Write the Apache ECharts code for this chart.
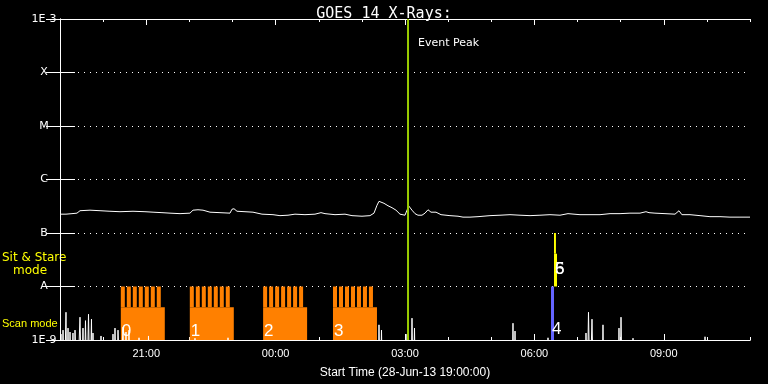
<!DOCTYPE html>
<html><head><meta charset="utf-8">
<script src="https://cdn.jsdelivr.net/npm/echarts@6/dist/echarts.min.js"></script>
<style>html,body{margin:0;padding:0;background:#000;}#c{width:768px;height:384px;}</style>
</head><body><div id="c"></div>
<script>
// x values are hours after the start time 28-Jun-13 19:00:00
const startHour = 19;
const hourTicks = [0,1,2,3,4,5,6,7,8,9,10,11,12,13,14,15,16];
const hourLabels = [2,5,8,11,14];          // 21:00, 00:00, 03:00, 06:00, 09:00
const levelNames = {'-9':'1E-9','-8':'A','-7':'B','-6':'C','-5':'M','-4':'X','-3':'1E-3'};

// GOES 14 long channel flux (W/m^2)
const goesLong = [[0.000,2.25e-7],[0.139,2.25e-7],[0.278,2.30e-7],[0.394,2.35e-7],[0.464,2.61e-7],[0.696,2.67e-7],[0.928,2.61e-7],[1.159,2.55e-7],[1.391,2.50e-7],[1.693,2.55e-7],[1.971,2.50e-7],[2.157,2.45e-7],[2.365,2.40e-7],[2.551,2.35e-7],[2.783,2.30e-7],[3.014,2.35e-7],[3.084,2.67e-7],[3.200,2.72e-7],[3.316,2.67e-7],[3.478,2.45e-7],[3.710,2.40e-7],[3.942,2.35e-7],[3.988,2.78e-7],[4.035,2.84e-7],[4.104,2.55e-7],[4.290,2.50e-7],[4.475,2.45e-7],[4.684,2.25e-7],[4.939,2.20e-7],[5.101,2.11e-7],[5.287,2.15e-7],[5.449,2.25e-7],[5.681,2.20e-7],[5.913,2.25e-7],[6.052,2.40e-7],[6.145,2.30e-7],[6.377,2.20e-7],[6.609,2.25e-7],[6.771,2.11e-7],[7.003,2.06e-7],[7.188,2.11e-7],[7.281,2.35e-7],[7.351,3.30e-7],[7.397,3.91e-7],[7.443,4.00e-7],[7.513,3.59e-7],[7.606,3.23e-7],[7.699,2.97e-7],[7.791,2.67e-7],[7.884,2.25e-7],[8.000,2.15e-7],[8.046,2.67e-7],[8.093,3.16e-7],[8.162,2.67e-7],[8.232,2.30e-7],[8.301,2.15e-7],[8.394,2.15e-7],[8.464,2.35e-7],[8.533,2.72e-7],[8.603,2.45e-7],[8.719,2.45e-7],[8.835,2.20e-7],[9.043,2.11e-7],[9.229,2.06e-7],[9.345,1.98e-7],[9.507,1.98e-7],[9.693,2.02e-7],[9.971,2.11e-7],[10.203,2.15e-7],[10.435,2.20e-7],[10.667,2.15e-7],[10.899,2.11e-7],[11.130,2.15e-7],[11.362,2.20e-7],[11.594,2.15e-7],[11.780,2.30e-7],[12.058,2.20e-7],[12.290,2.20e-7],[12.522,2.20e-7],[12.754,2.30e-7],[12.986,2.30e-7],[13.217,2.35e-7],[13.449,2.35e-7],[13.588,2.50e-7],[13.658,2.40e-7],[13.797,2.35e-7],[14.029,2.30e-7],[14.261,2.25e-7],[14.354,2.61e-7],[14.420,2.20e-7],[14.609,2.20e-7],[14.841,2.11e-7],[15.072,2.02e-7],[15.304,2.02e-7],[15.536,1.98e-7],[15.768,1.98e-7],[16.000,1.98e-7]];

// Short channel: mostly below 1E-9 (off scale), brief excursions above it
const goesShort = [[0.000,1e-10],[0.023,1.29e-9],[0.045,1e-10],[0.070,1.53e-9],[0.100,1e-10],[0.139,3.30e-9],[0.160,1e-10],[0.186,1.67e-9],[0.210,1e-10],[0.232,1.41e-9],[0.265,1e-10],[0.301,1.35e-9],[0.325,1e-10],[0.348,1.53e-9],[0.400,1e-10],[0.464,2.67e-9],[0.500,1e-10],[0.533,1.67e-9],[0.560,1e-10],[0.591,2.30e-9],[0.625,1e-10],[0.661,3.03e-9],[0.695,1e-10],[0.730,2.45e-9],[0.748,1e-10],[0.765,1.35e-9],[0.790,1e-10],[0.930,1e-10],[0.951,1.19e-9],[0.975,1e-10],[1.205,1e-10],[1.229,1.29e-9],[1.250,1e-10],[1.275,1.67e-9],[1.310,1e-10],[1.345,1.53e-9],[1.400,1e-10],[1.461,1.74e-9],[1.495,1e-10],[1.530,1.41e-9],[1.565,1e-10],[1.600,1.53e-9],[1.625,1e-10],[1.810,1e-10],[1.832,1.10e-9],[1.855,1e-10],[2.030,1e-10],[2.052,1.19e-9],[2.075,1e-10],[3.110,1e-10],[3.130,1.08e-9],[3.150,1e-10],[3.875,1e-10],[3.896,1.10e-9],[3.920,1e-10],[7.375,1e-10],[7.397,1.92e-9],[7.425,1e-10],[7.455,1.53e-9],[7.480,1e-10],[8.000,1e-10],[8.023,1.29e-9],[8.050,1e-10],[8.140,1e-10],[8.162,2.56e-9],[8.190,1e-10],[8.220,1.67e-9],[8.245,1e-10],[10.480,1e-10],[10.504,2.06e-9],[10.528,1e-10],[10.551,1.47e-9],[10.575,1e-10],[11.295,1e-10],[11.316,1.10e-9],[11.340,1e-10],[12.175,1e-10],[12.197,1.35e-9],[12.225,1e-10],[12.255,3.30e-9],[12.290,1e-10],[12.336,2.45e-9],[12.370,1e-10],[12.568,1e-10],[12.591,1.92e-9],[12.615,1e-10],[12.940,1e-10],[12.962,1.67e-9],[12.985,1e-10],[13.009,2.67e-9],[13.040,1e-10],[13.265,1e-10],[13.287,1.08e-9],[13.310,1e-10],[14.935,1e-10],[14.957,1.15e-9],[14.980,1e-10],[16.000,1e-10]];

// IRIS observations (hours after start)
const scanStart = [1.41, 3.01, 4.71, 6.33];
const scanEnd   = [2.43, 4.03, 5.73, 7.35];
const scanLabels = ['0','1','2','3'];
const scanSteps = 7, stepWidth = 0.093, stepGap = 0.046;
const scanTop = 1e-8, scanFloor = 4.1e-9, bandBottom = 1e-9;
const blueStart = [11.386], blueEnd = [11.455], blueLabels = ['4'];
const stareStart = [11.455], stareEnd = [11.525], stareToothEnd = [11.50];
const stareLabels = ['5','6'];
const stareTop = 1e-7, stareFloor = 4.1e-8;
const eventPeakHour = 8.07;

const colors = ['#ff8000', '#6464ff', '#ffff00'];
const rects = [];
scanStart.forEach((s, i) => {
  rects.push([s, scanEnd[i], bandBottom, scanFloor, 0]);
  for (let k = 0; k < scanSteps; k++) {
    const x0 = s + k * (stepWidth + stepGap);
    rects.push([x0, x0 + stepWidth, scanFloor, scanTop, 0]);
  }
});
blueStart.forEach((s, i) => rects.push([s, blueEnd[i], bandBottom, scanTop, 1]));
stareStart.forEach((s, i) => {
  rects.push([s, stareEnd[i], scanTop, stareFloor, 2]);
  rects.push([s, stareToothEnd[i], stareFloor, stareTop, 2]);
});

// [x, y, text, dx, font]
const digitFont = '17px "Liberation Sans"';
const texts = [];
scanStart.forEach((s, i) => texts.push([s, 1.47e-9, scanLabels[i], 1, digitFont]));
blueStart.forEach((s, i) => texts.push([s, 1.56e-9, blueLabels[i], 1, digitFont]));
stareLabels.forEach(l => texts.push([stareStart[0], 2.06e-8, l, 1, digitFont]));
texts.push([eventPeakHour, 3.6e-4, 'Event Peak', 10, '11px "DejaVu Sans"']);

const chart = echarts.init(document.getElementById('c'));
const pad2 = n => (n < 10 ? '0' : '') + n;
const white = '#ffffff';
function xAxisDef(pos, major, showLabel) {
  return {
    type: 'value', position: pos, min: 0, max: 16, interval: 1,
    axisLine: { show: true, lineStyle: { color: white, width: 1 } },
    axisTick: { show: true, inside: true, length: major ? 6 : 3, customValues: major ? hourLabels : hourTicks, lineStyle: { color: white } },
    axisLabel: showLabel ? { show: true, customValues: hourLabels, color: white, fontSize: 11, fontFamily: 'Liberation Sans', margin: 8,
      formatter: v => pad2((startHour + Math.round(v)) % 24) + ':00' } : { show: false },
    splitLine: { show: false },
    name: showLabel ? 'Start Time (28-Jun-13 19:00:00)' : '',
    nameLocation: 'middle', nameGap: 27,
    nameTextStyle: { color: white, fontSize: 12, fontFamily: 'Liberation Sans' }
  };
}
const option = {
  backgroundColor: '#000',
  animation: false,
  title: { text: 'GOES 14 X-Rays:', left: 'center', top: 2,
    textStyle: { color: white, fontSize: 15, fontWeight: 'normal', fontFamily: 'DejaVu Sans Mono' } },
  grid: { left: 60, right: 18, top: 19, bottom: 41 },
  graphic: [
    { type: 'text', left: 2, top: 252, style: { text: 'Sit & Stare', fill: '#ffff00', font: '12px "DejaVu Sans"' } },
    { type: 'text', left: 13, top: 265, style: { text: 'mode', fill: '#ffff00', font: '12px "DejaVu Sans"' } },
    { type: 'text', left: 2, top: 318, style: { text: 'Scan mode', fill: '#ffff00', font: '11px "Liberation Sans"' } }
  ],
  xAxis: [xAxisDef('bottom', false, true), xAxisDef('bottom', true, false), xAxisDef('top', false, false), xAxisDef('top', true, false)],
  yAxis: [
    { type: 'log', logBase: 10, min: 1e-9, max: 1e-3, position: 'left',
      axisLine: { show: true, lineStyle: { color: white } },
      axisTick: { show: true, inside: true, length: 15, lineStyle: { color: white } },
      minorTick: { show: false },
      splitLine: { show: true, lineStyle: { color: white, type: [1, 5], width: 1 } },
      axisLabel: { color: white, fontSize: 11, fontFamily: 'DejaVu Sans', margin: 3, showMinLabel: true, showMaxLabel: true,
        formatter: v => '{l|' + levelNames[String(Math.round(Math.log10(v)))] + '}',
        rich: { l: { width: 26, align: 'center', color: white, fontSize: 11, fontFamily: 'DejaVu Sans' } } } },
    { type: 'log', logBase: 10, min: 1e-9, max: 1e-3, position: 'right',
      axisLine: { show: true, lineStyle: { color: white } },
      axisTick: { show: true, inside: true, length: 14, lineStyle: { color: white } },
      splitLine: { show: false }, axisLabel: { show: false } }
  ],
  series: [
    { type: 'custom', name: 'modes', xAxisIndex: 0, yAxisIndex: 0, z: 2,
      encode: { x: [0, 1], y: [2, 3] },
      data: rects,
      renderItem: (params, api) => {
        const r = rects[params.dataIndex];
        const p0 = api.coord([r[0], r[3]]);
        const p1 = api.coord([r[1], r[2]]);
        return { type: 'rect', shape: { x: p0[0], y: p0[1], width: p1[0] - p0[0], height: p1[1] - p0[1] },
          style: { fill: colors[r[4]] } };
      } },
    { type: 'line', name: 'short', data: goesShort, showSymbol: false, symbol: 'none', clip: true, z: 3,
      lineStyle: { color: white, width: 1 } },
    { type: 'line', name: 'long', data: goesLong, showSymbol: false, symbol: 'none', z: 3,
      lineStyle: { color: white, width: 1 } },
    { type: 'line', name: 'event', data: [[eventPeakHour, 1e-9], [eventPeakHour, 1e-3]], showSymbol: false, symbol: 'none', z: 4,
      lineStyle: { color: '#99cc00', width: 2 } },
    { type: 'custom', name: 'labels', z: 5,
      encode: { x: 0, y: 1 },
      data: texts.map(t => [t[0], t[1]]),
      renderItem: (params, api) => {
        const t = texts[params.dataIndex];
        const p = api.coord([t[0], t[1]]);
        return { type: 'text', x: p[0] + t[3], y: p[1],
          style: { text: t[2], fill: white, font: t[4], align: 'left', verticalAlign: 'middle' } };
      } }
  ]
};
chart.setOption(option);
</script></body></html>
